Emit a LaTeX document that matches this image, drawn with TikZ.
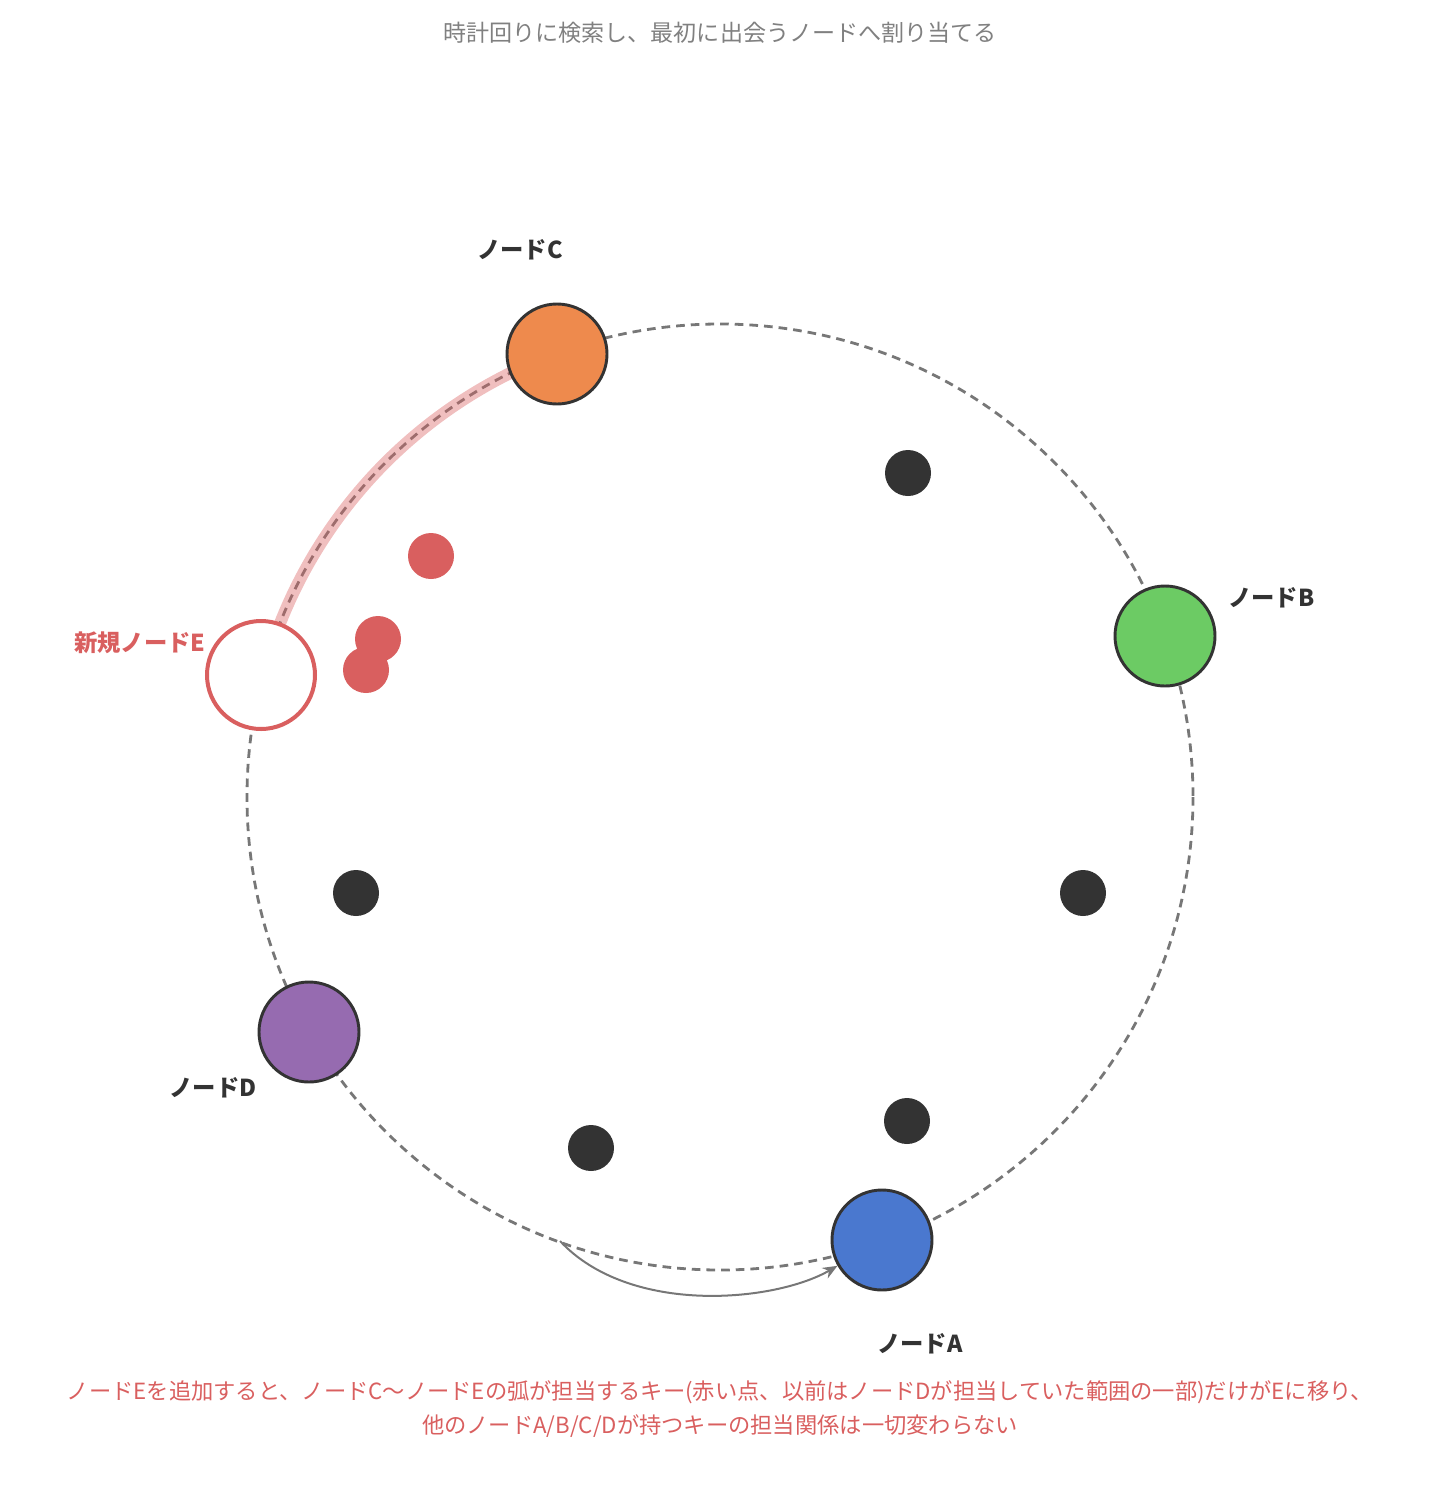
\documentclass[tikz,border=0pt]{standalone}
\usepackage{fontspec}
\setmainfont{Noto Sans CJK JP}
\usetikzlibrary{arrows.meta}
\definecolor{ringgray}{HTML}{777777}
\definecolor{titlegray}{HTML}{808080}
\definecolor{ink}{HTML}{333333}
\definecolor{keyred}{HTML}{D95F5F}
\definecolor{corange}{HTML}{EE8A4D}
\definecolor{cgreen}{HTML}{6CCB64}
\definecolor{cblue}{HTML}{4A78CF}
\definecolor{cpurple}{HTML}{966BB0}
\tikzset{
  ringnode/.style={circle, draw=ink, line width=2.2pt, minimum size=100*0.75pt, inner sep=0pt},
  keydot/.style={circle, fill=ink, minimum size=46*0.75pt, inner sep=0pt},
  reddot/.style={circle, fill=keyred, minimum size=46*0.75pt, inner sep=0pt},
  lbl/.style={font=\fontsize{17.5}{20}\selectfont\bfseries, text=ink, inner sep=0pt},
  ring/.style={ringgray, line width=2.1pt, dash pattern=on 6.5pt off 4.5pt},
}
\begin{document}
\begin{tikzpicture}[x=0.75pt,y=-0.75pt]
\useasboundingbox (0,0) rectangle (1440,1485);
% title
\node[font=\fontsize{17.3}{20}\selectfont, text=titlegray, inner sep=0pt] (title) at (720,33) {時計回りに検索し、最初に出会うノードへ割り当てる};
% ring
\draw[ring] (720,797) circle (473);
% highlighted arc E -> C
\draw[keyred, opacity=0.4, line width=9pt] (720,797) ++(-165.1:473) arc[start angle=-165.1, end angle=-110.2, radius=473];
% keys
\node[keydot] (k1) at (908,473) {};
\node[keydot] (k2) at (1083,893) {};
\node[keydot] (k3) at (907,1121) {};
\node[keydot] (k4) at (591,1148) {};
\node[keydot] (k5) at (356,893) {};
\node[reddot] (r1) at (431,556) {};
\node[reddot] (r2) at (378,639) {};
\node[reddot] (r3) at (366,670) {};
% nodes
\node[ringnode, fill=corange] (C) at (557,354) {};
\node[ringnode, fill=cgreen] (B) at (1165,636) {};
\node[ringnode, fill=cblue] (A) at (882,1240) {};
\node[ringnode, fill=cpurple] (D) at (309,1032) {};
\node[circle, draw=keyred, fill=white, line width=3pt, minimum size=108*0.75pt, inner sep=0pt] (E) at (261,675) {};
% arrow
\coordinate (s) at (560,1241);
\draw[ringgray, line width=1.5pt, -{Stealth[length=11pt,width=9pt]}] (s) .. controls (630,1316) and (775,1302) .. (A);
% labels
\node[lbl] (lC) at (520,250) {ノードC};
\node[lbl, anchor=west] (lB) at (1228,598) {ノードB};
\node[lbl] (lD) at (213,1088) {ノードD};
\node[lbl] (lA) at (920,1344) {ノードA};
\node[lbl, text=keyred] (lE) at (140,643) {新規ノードE};
% caption
\node[font=\fontsize{16.7}{25.5}\selectfont, text=keyred, align=center, inner sep=0pt] (cap) at (720,1409) {ノードEを追加すると、ノードC〜ノードEの弧が担当するキー(赤い点、以前はノードDが担当していた範囲の一部)だけがEに移り、\\他のノードA/B/C/Dが持つキーの担当関係は一切変わらない};
\end{tikzpicture}
\end{document}
